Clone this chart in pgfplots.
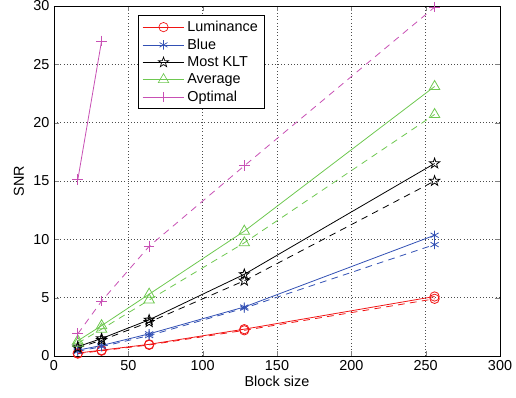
\documentclass[border=0pt]{standalone}
\usepackage{pgfplots}
\pgfplotsset{compat=1.18}
\usepackage{fontspec}
\setmainfont{Liberation Sans}
\definecolor{cred}{RGB}{240,20,20}
\definecolor{cblue}{RGB}{50,80,180}
\definecolor{cgreen}{RGB}{110,200,80}
\definecolor{cmag}{RGB}{200,80,180}
\pgfdeclareplotmark{pentagram}{%
  \pgfpathmoveto{\pgfqpointpolar{90}{\pgfplotmarksize}}%
  \pgfpathlineto{\pgfqpointpolar{126}{0.4\pgfplotmarksize}}%
  \pgfpathlineto{\pgfqpointpolar{162}{\pgfplotmarksize}}%
  \pgfpathlineto{\pgfqpointpolar{198}{0.4\pgfplotmarksize}}%
  \pgfpathlineto{\pgfqpointpolar{234}{\pgfplotmarksize}}%
  \pgfpathlineto{\pgfqpointpolar{270}{0.4\pgfplotmarksize}}%
  \pgfpathlineto{\pgfqpointpolar{306}{\pgfplotmarksize}}%
  \pgfpathlineto{\pgfqpointpolar{342}{0.4\pgfplotmarksize}}%
  \pgfpathlineto{\pgfqpointpolar{18}{\pgfplotmarksize}}%
  \pgfpathlineto{\pgfqpointpolar{54}{0.4\pgfplotmarksize}}%
  \pgfpathclose
  \pgfusepathqstroke
}
\newcommand{\lf}{\fontsize{10.8}{12.8}\selectfont}
\begin{document}
\begin{tikzpicture}
\useasboundingbox (-40.5pt,-31.5pt) rectangle (346.5pt,267pt);
\begin{axis}[
  scale only axis, width=334.5pt, height=262.5pt,
  xmin=0, xmax=300, ymin=0, ymax=30,
  xtick={0,50,...,300}, ytick={0,5,...,30},
  /pgf/number format/assume math mode=true,
  tick align=inside, tick pos=both,
  major tick length=4pt,
  grid=major, grid style={black!70, dotted, line width=0.5pt},
  axis line style={line width=0.7pt},
  xlabel={Block size}, ylabel={SNR},
  label style={font=\lf},
  xlabel style={yshift=3pt}, ylabel style={yshift=0pt},
  ticklabel style={font=\lf},
  legend style={at={(rel axis cs:0.188,0.974)}, anchor=north west, draw=black, line width=0.7pt, font=\lf, row sep=0pt, inner xsep=3pt, inner ysep=2pt},
  legend cell align=left,
  legend image post style={line width=0.5pt},
  legend image code/.code={\draw[mark repeat=2,mark phase=2,#1] plot coordinates {(0cm,0cm) (0.55cm,0cm) (1.1cm,0cm)};},
  every axis plot/.append style={line width=0.6pt, mark size=3.5pt},
]
% solid
\addplot[cred, mark=o] coordinates {(16,0.25) (32,0.5) (64,1.0) (128,2.3) (256,5.1)};
\addlegendentry{Luminance}
\addplot[cblue, mark=asterisk] coordinates {(16,0.5) (32,0.9) (64,1.9) (128,4.2) (256,10.35)};
\addlegendentry{Blue}
\addplot[black, mark=pentagram, mark size=4pt, mark options={solid}] coordinates {(16,0.8) (32,1.5) (64,3.1) (128,7.0) (256,16.5)};
\addlegendentry{Most KLT}
\addplot[cgreen, mark=triangle, mark size=4.5pt] coordinates {(16,1.3) (32,2.6) (64,5.3) (128,10.7) (256,23.1)};
\addlegendentry{Average}
\addplot[cmag, mark=+, mark size=4pt] coordinates {(16,15.1) (32,27.0)};
\addlegendentry{Optimal}
% dashed
\addplot[cred, mark=o, dash pattern=on 5pt off 4pt, mark options={solid}, forget plot] coordinates {(16,0.2) (32,0.45) (64,0.95) (128,2.2) (256,4.9)};
\addplot[cblue, mark=asterisk, dash pattern=on 5pt off 4pt, mark options={solid}, forget plot] coordinates {(16,0.4) (32,0.8) (64,1.75) (128,4.1) (256,9.55)};
\addplot[black, mark=pentagram, mark size=4pt, dash pattern=on 5pt off 4pt, mark options={solid}, forget plot] coordinates {(16,0.7) (32,1.35) (64,2.9) (128,6.45) (256,15.0)};
\addplot[cgreen, mark=triangle, mark size=4.5pt, dash pattern=on 5pt off 4pt, mark options={solid}, forget plot] coordinates {(16,1.1) (32,2.3) (64,4.8) (128,9.7) (256,20.7)};
\addplot[cmag, mark=+, mark size=4pt, dash pattern=on 5pt off 4pt, mark options={solid}, forget plot] coordinates {(16,1.9) (32,4.7) (64,9.4) (128,16.3) (256,29.9)};
\end{axis}
\end{tikzpicture}
\end{document}
